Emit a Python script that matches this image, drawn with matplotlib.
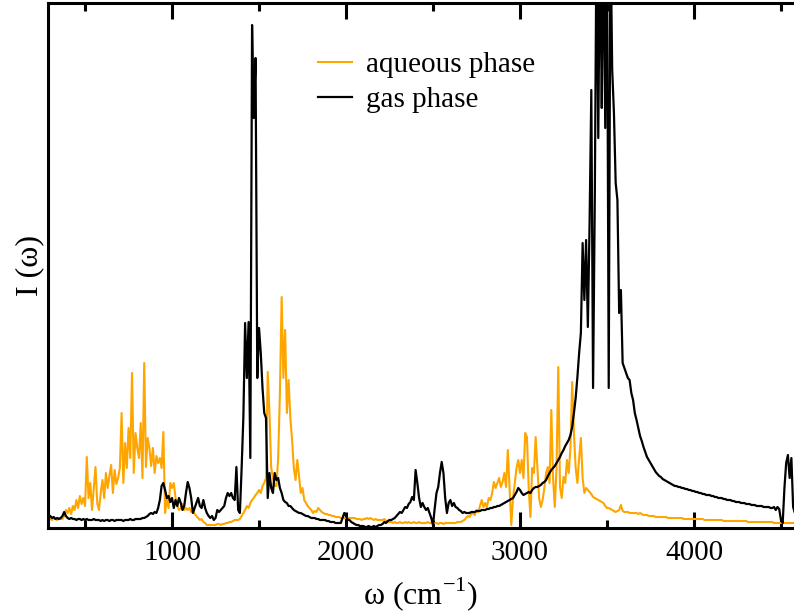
import matplotlib
matplotlib.use("Agg")
import matplotlib.pyplot as plt
import numpy as np

# frequency grid (cm^-1), one value every 10 cm^-1
omega = np.arange(200, 4600, 10)

# aqueous phase intensity (arbitrary units)
aqueous = [
    9, 9, 9, 9, 9, 9, 9, 9, 9, 9,
    9, 8, 10, 9, 8, 10, 9, 9, 12, 18,
    15, 20, 14, 22, 18, 28, 20, 32, 24, 30,
    22, 71, 30, 45, 18, 40, 61, 25, 18, 35,
    48, 30, 55, 40, 52, 63, 35, 58, 44, 50,
    60, 115, 45, 85, 60, 100, 70, 155, 55, 95,
    80, 70, 105, 50, 165, 61, 90, 80, 62, 80,
    55, 72, 65, 70, 60, 96, 15, 30, 20, 45,
    40, 45, 30, 22, 18, 20, 24, 18, 20, 18,
    20, 16, 18, 14, 12, 10, 8, 9, 6, 5,
    3, 3, 3, 3, 3, 3, 4, 4, 3, 4,
    4, 5, 5, 6, 6, 7, 8, 8, 8, 9,
    12, 15, 18, 22, 20, 25, 28, 30, 33, 35,
    38, 35, 42, 45, 50, 156, 115, 60, 50, 42,
    42, 70, 135, 231, 150, 198, 115, 148, 110, 88,
    60, 48, 68, 52, 35, 40, 28, 25, 22, 20,
    18, 15, 17, 16, 20, 18, 16, 15, 14, 14,
    13, 13, 12, 12, 11, 11, 11, 10, 10, 10,
    10, 10, 10, 10, 10, 10, 9, 9, 9, 8,
    9, 9, 10, 9, 10, 9, 8, 9, 8, 8,
    8, 8, 9, 7, 6, 6, 6, 5, 6, 5,
    5, 6, 5, 5, 6, 5, 6, 5, 5, 6,
    5, 5, 6, 5, 5, 5, 5, 6, 5, 5,
    5, 5, 5, 4, 5, 5, 4, 5, 5, 5,
    5, 5, 5, 5, 6, 6, 6, 7, 8, 10,
    12, 11, 14, 15, 13, 18, 16, 22, 28, 21,
    25, 21, 30, 28, 35, 46, 40, 45, 50, 41,
    46, 55, 41, 78, 40, 3, 30, 45, 60, 68,
    55, 68, 50, 95, 91, 40, 11, 60, 55, 91,
    60, 30, 21, 28, 40, 55, 61, 45, 118, 50,
    21, 60, 161, 41, 30, 51, 45, 68, 55, 80,
    146, 95, 60, 45, 70, 90, 50, 35, 40, 38,
    36, 34, 31, 30, 29, 28, 27, 26, 25, 22,
    20, 20, 19, 18, 17, 16, 17, 18, 23, 17,
    16, 16, 16, 15, 15, 15, 15, 15, 14, 15,
    14, 13, 13, 13, 12, 12, 12, 12, 11, 11,
    11, 11, 11, 11, 11, 10, 10, 10, 10, 10,
    10, 10, 10, 10, 9, 9, 9, 9, 9, 9,
    9, 9, 9, 9, 9, 9, 8, 8, 8, 8,
    8, 8, 8, 8, 8, 8, 8, 7, 7, 7,
    7, 7, 7, 7, 7, 7, 7, 7, 7, 7,
    7, 6, 6, 6, 6, 6, 6, 6, 6, 6,
    6, 6, 6, 6, 6, 6, 5, 5, 5, 5,
    5, 5, 5, 5, 5, 5, 5, 5, 5, 5,
]

# gas phase intensity (arbitrary units)
gas = [
    13, 13, 13, 13, 13, 13, 13, 13, 13, 13,
    12, 10, 11, 9, 10, 9, 10, 12, 16, 12,
    10, 9, 10, 9, 9, 8, 9, 9, 8, 9,
    8, 9, 8, 8, 8, 9, 8, 8, 8, 7,
    8, 7, 8, 8, 7, 8, 8, 7, 8, 8,
    8, 8, 7, 8, 8, 8, 9, 8, 8, 9,
    9, 9, 9, 10, 10, 11, 12, 14, 15, 14,
    16, 15, 20, 28, 42, 45, 38, 30, 32, 26,
    30, 20, 28, 22, 30, 25, 18, 22, 35, 46,
    40, 30, 15, 20, 25, 30, 22, 20, 28, 20,
    15, 12, 10, 12, 8, 10, 18, 16, 18, 20,
    22, 30, 35, 32, 35, 30, 28, 61, 18, 15,
    60, 111, 205, 150, 206, 70, 503, 410, 470, 150,
    200, 175, 140, 115, 110, 30, 55, 40, 35, 55,
    48, 50, 40, 35, 28, 26, 25, 22, 22, 20,
    18, 17, 16, 15, 15, 14, 13, 12, 12, 11,
    10, 10, 10, 9, 9, 8, 8, 8, 8, 7,
    7, 6, 6, 6, 5, 5, 5, 5, 10, 15,
    12, 8, 8, 6, 5, 4, 3, 3, 2, 2,
    2, 1, 1, 2, 1, 1, 2, 1, 2, 3,
    3, 4, 6, 5, 7, 8, 8, 9, 10, 12,
    14, 16, 15, 18, 21, 20, 24, 26, 31, 28,
    58, 45, 30, 21, 25, 21, 18, 20, 15, 10,
    3, 20, 35, 41, 55, 66, 55, 30, 15, 25,
    28, 22, 25, 21, 20, 18, 17, 15, 16, 15,
    15, 15, 16, 16, 16, 17, 17, 17, 18, 18,
    18, 19, 19, 20, 20, 21, 21, 22, 22, 23,
    24, 25, 26, 27, 28, 29, 30, 33, 36, 40,
    38, 35, 33, 34, 35, 36, 35, 38, 40, 41,
    41, 42, 43, 45, 46, 48, 52, 55, 58, 60,
    62, 65, 68, 71, 75, 78, 82, 85, 88, 93,
    101, 115, 130, 151, 175, 195, 285, 228, 288, 201,
    305, 438, 140, 330, 600, 390, 600, 420, 600, 400,
    600, 140, 600, 458, 415, 345, 328, 215, 238, 165,
    160, 155, 150, 148, 135, 128, 115, 108, 100, 92,
    87, 81, 76, 71, 68, 65, 62, 59, 56, 54,
    52, 51, 49, 48, 47, 46, 45, 44, 43, 42,
    42, 41, 41, 40, 40, 39, 39, 38, 38, 37,
    37, 36, 36, 35, 35, 34, 34, 33, 33, 33,
    32, 32, 31, 31, 30, 30, 30, 29, 29, 28,
    28, 28, 27, 27, 26, 26, 26, 25, 25, 25,
    24, 24, 24, 23, 23, 23, 22, 22, 22, 22,
    21, 21, 21, 21, 20, 20, 21, 18, 21, 19,
    8, 5, 40, 65, 73, 50, 70, 21, 15, 15,
]

assert len(aqueous) == len(omega) and len(gas) == len(omega)

plt.rcParams['font.family'] = ['Liberation Serif', 'DejaVu Serif']
plt.rcParams['mathtext.fontset'] = 'custom'
plt.rcParams['mathtext.rm'] = 'Liberation Serif'

fig = plt.figure(figsize=(7.94, 6.14), dpi=100)
ax = fig.add_axes([48 / 794, 86 / 614, 746 / 794, 525 / 614])

ax.plot(omega, aqueous, color='#FFA500', lw=1.5, label='aqueous phase')
ax.plot(omega, gas, color='black', lw=1.6, label='gas phase')

ax.set_xlim(287, 4575)
ax.set_ylim(0, 525)

ax.set_xticks([1000, 2000, 3000, 4000])
ax.set_xticks([500, 1500, 2500, 3500, 4500], minor=True)
ax.set_yticks([])
ax.tick_params(axis='x', which='both', direction='in', top=True, width=2.2,
               labelsize=21, pad=9)
ax.tick_params(axis='x', which='major', length=11.5)
ax.tick_params(axis='x', which='minor', length=6)

for side in ['left', 'bottom', 'top']:
    ax.spines[side].set_linewidth(2.2)
ax.spines['right'].set_visible(False)

ax.set_xlabel(r'ω (cm$^{\mathregular{-1}}$)', fontsize=23, labelpad=6)
ax.set_ylabel('I (ω)', fontsize=23, labelpad=3)

ax.legend(loc='upper left', bbox_to_anchor=(0.362, 0.908), frameon=False,
          fontsize=21, handlelength=1.15, handletextpad=0.5,
          borderpad=0, borderaxespad=0, labelspacing=0.3)

fig.savefig('out.png', dpi=100)
